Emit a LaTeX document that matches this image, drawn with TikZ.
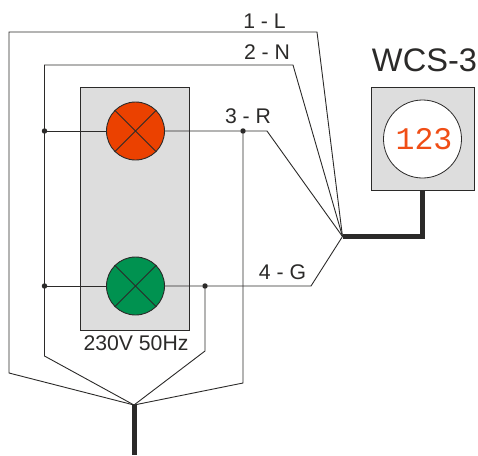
\documentclass[tikz,border=0pt]{standalone}
\usepackage{fontspec}
\setmainfont{Liberation Sans}
\newfontfamily\digitfont{Liberation Mono}
\definecolor{ink}{HTML}{2B2A29}
\definecolor{panel}{HTML}{DDDDDD}
\definecolor{lampred}{HTML}{EB4100}
\definecolor{lampgreen}{HTML}{009250}
\definecolor{seg}{HTML}{F04E16}
\tikzset{
  wire/.style={draw=ink,line width=0.9pt,line join=miter},
  cable/.style={draw=ink,line width=5pt,line join=miter},
  panelbox/.style={draw=ink,fill=panel,line width=0.9pt},
  lamp/.style={circle,draw=ink,line width=0.9pt,minimum size=58pt,inner sep=0pt},
  joint/.style={circle,fill=ink,minimum size=5.5pt,inner sep=0pt},
  lbl/.style={text=ink,font=\fontsize{21.2}{24}\selectfont,inner sep=0pt},
}
\begin{document}
\begin{tikzpicture}[x=1pt,y=-1pt]
\useasboundingbox (0,0) rectangle (478,455);
% device boxes
\node[panelbox,minimum width=109.5pt,minimum height=243pt,inner sep=0pt] (panel) at (134.75,208.5) {};
\node[panelbox,minimum width=103pt,minimum height=103pt,inner sep=0pt] (wcs) at (422.5,138.5) {};
\node[circle,draw=ink,fill=white,line width=0.8pt,minimum size=78pt,inner sep=0pt] (dial) at (422.5,139) {};
% junction points
\coordinate (hub) at (342.5,236.5);
\coordinate (apex) at (134,405);
\coordinate (wcsfoot) at (422.5,190);
\coordinate (corner) at (422.5,236.5);
\coordinate (cableend) at (134,455);
\coordinate (lA) at (9,373);
\coordinate (lB) at (9,32);
\coordinate (lC) at (317,32);
\coordinate (nA) at (44.5,356);
\coordinate (nB) at (44.5,65);
\coordinate (nC) at (293,65);
\coordinate (rA) at (243,383);
\coordinate (rC) at (267,131);
\coordinate (gA) at (205,351);
\coordinate (gC) at (311,286);
% joints
\node[joint] (j1) at (44.5,131) {};
\node[joint] (j2) at (44.5,286) {};
\node[joint] (j3) at (243,131) {};
\node[joint] (j4) at (205,286) {};
% lamps
\node[lamp,fill=lampred] (red) at (135.5,131) {};
\node[lamp,fill=lampgreen] (green) at (135.5,286) {};
% wires
\draw[wire] (apex) -- (lA) -- (lB) -- (lC) -- (hub);
\draw[wire] (apex) -- (nA) -- (nB) -- (nC) -- (hub);
\draw[wire] (apex) -- (rA) -- (j3);
\draw[wire] (apex) -- (gA) -- (j4);
\draw[wire] (j1) -- (red);
\draw[wire] (red) -- (j3) -- (rC) -- (hub);
\draw[wire] (j2) -- (green);
\draw[wire] (green) -- (j4) -- (gC) -- (hub);
% lamp crosses
\foreach \n in {red,green}{
  \draw[wire] (\n.45) -- (\n.225);
  \draw[wire] (\n.135) -- (\n.-45);
}
% cables
\draw[cable] (wcsfoot) -- (corner) -- (hub);
\draw[cable] (apex) -- (cableend);
% labels
\node[lbl] (t1) at (264.5,21) {1 - L};
\node[lbl] (t2) at (267,52) {2 - N};
\node[lbl] (t3) at (248,116) {3 - R};
\node[lbl] (t4) at (282.5,272) {4 - G};
\node[lbl] (t5) at (136,343) {230V 50Hz};
\node[text=ink,font=\fontsize{32.6}{36}\selectfont,inner sep=0pt] (title) at (424.5,60) {WCS-3};
\node[text=seg,font=\digitfont\fontsize{31.5}{36}\selectfont,inner sep=0pt] (digits) at (424,139) {123};
\end{tikzpicture}
\end{document}
